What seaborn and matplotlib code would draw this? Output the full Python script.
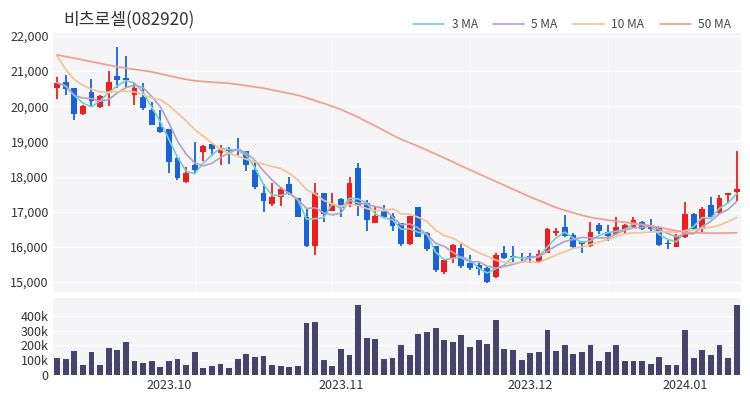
import numpy as np
import pandas as pd
import matplotlib
matplotlib.use("Agg")
import matplotlib.pyplot as plt
import seaborn as sns
from matplotlib.ticker import FuncFormatter

# ---- data ----
opens = [20530, 20700, 20510, 19780, 20400, 19970, 20370, 20860, 20800, 20320,
         20270, 19890, 19400, 19340, 18520, 17850, 18330, 18710, 18930, 18660,
         18780, 18760, 18740, 18190, 17520, 17220, 17430, 17790, 17380, 16840,
         16020, 17540, 17030, 17350, 17220, 18230, 17260, 16690, 17030, 16880,
         16690, 16080, 17120, 16380, 16020, 15290, 15670, 15960, 15530, 15480,
         15390, 15150, 15820, 15720, 15720, 15710, 15580, 15830, 16380, 16560,
         16340, 16150, 16020, 16620, 16430, 16370, 16510, 16570, 16720, 16590,
         16560, 16100, 15990, 16270, 16930, 16500, 17190, 16950, 17470, 17570]
highs = [20820, 20890, 20530, 20040, 20780, 20320, 21010, 21680, 21430, 20650,
         20670, 20130, 19890, 19340, 18570, 18280, 18990, 18900, 18930, 18900,
         18850, 19090, 18740, 18470, 17790, 17810, 17710, 17980, 17380, 17100,
         17830, 17540, 17540, 17380, 18000, 18380, 17330, 17140, 17190, 16970,
         16690, 16880, 17140, 16430, 16020, 15630, 16080, 16080, 15770, 15550,
         15420, 15830, 16010, 16020, 15830, 15820, 15910, 16530, 16530, 16900,
         16380, 16170, 16720, 16690, 16620, 16840, 16650, 16840, 16740, 16780,
         16570, 16210, 16370, 17290, 16950, 17120, 17430, 17480, 17530, 18740]
lows = [20200, 20320, 19610, 19760, 20020, 19960, 20010, 20510, 20560, 20040,
        19890, 19470, 19250, 18110, 17900, 17830, 18110, 18450, 18590, 18330,
        18360, 18610, 18170, 17660, 17000, 17170, 17160, 17480, 16840, 16000,
        15770, 16720, 17030, 16840, 17140, 16880, 16460, 16690, 16810, 16460,
        16010, 16050, 16290, 15890, 15290, 15230, 15550, 15390, 15340, 15200,
        14980, 15100, 15640, 15580, 15610, 15530, 15550, 15820, 16310, 16270,
        15950, 15820, 16000, 16370, 16170, 16340, 16380, 16560, 16480, 16460,
        16020, 15950, 15990, 16240, 16480, 16430, 16840, 16930, 17260, 17310]
closes = [20670, 20480, 19780, 20010, 20160, 20290, 20700, 20750, 20740, 20510,
          19940, 19470, 19280, 18420, 17950, 18090, 18200, 18870, 18780, 18780,
          18740, 18740, 18330, 17690, 17300, 17430, 17660, 17500, 16840, 16020,
          17540, 16930, 17220, 17100, 17830, 17160, 16760, 16880, 16840, 16590,
          16070, 16880, 16290, 15930, 15340, 15630, 16050, 15450, 15390, 15360,
          15010, 15770, 15670, 15700, 15690, 15700, 15800, 16500, 16450, 16310,
          16000, 16080, 16430, 16460, 16310, 16560, 16620, 16760, 16510, 16500,
          16050, 16070, 16310, 16930, 16500, 17070, 16840, 17380, 17520, 17650]
volumes = [115000, 106000, 160000, 70000, 154000, 66000, 183000, 170000, 226000, 97000,
           79000, 95000, 52000, 93000, 108000, 66000, 154000, 50000, 61000, 75000,
           50000, 108000, 140000, 120000, 129000, 66000, 59000, 54000, 59000, 350000,
           359000, 102000, 63000, 176000, 136000, 477000, 249000, 242000, 111000, 113000,
           203000, 136000, 276000, 289000, 319000, 237000, 224000, 271000, 188000, 235000,
           210000, 375000, 176000, 170000, 99000, 149000, 154000, 305000, 163000, 201000,
           140000, 154000, 203000, 97000, 154000, 203000, 93000, 93000, 93000, 77000,
           120000, 68000, 68000, 303000, 118000, 172000, 133000, 203000, 113000, 477000]
# moving-average values visible at the left edge (they depend on earlier history)
ma10_head = [21440, 21050, 20760, 20600, 20480, 20410, 20400, 20420, 20430]
ma50 = [21460, 21415, 21370, 21320, 21270, 21220, 21170, 21125, 21085, 21050,
        21015, 20980, 20925, 20870, 20815, 20765, 20725, 20705, 20685, 20670,
        20655, 20620, 20585, 20550, 20515, 20465, 20415, 20365, 20315, 20240,
        20160, 20080, 20000, 19910, 19800, 19690, 19560, 19440, 19310, 19180,
        19060, 18960, 18860, 18750, 18640, 18530, 18420, 18300, 18190, 18080,
        17970, 17860, 17750, 17640, 17530, 17420, 17320, 17220, 17120, 17040,
        16970, 16900, 16840, 16800, 16760, 16730, 16700, 16670, 16640, 16600,
        16560, 16500, 16460, 16420, 16400, 16395, 16390, 16390, 16395, 16400]
month_labels = ["2023.10", "2023.11", "2023.12", "2024.01"]
month_pos = [13, 33, 55, 73]
title = "비츠로셀(082920)"

# ---- styling ----
sns.set_theme(style="white")
plt.rcParams["font.family"] = ["Noto Sans CJK KR", "DejaVu Sans"]

RED = "#f21c1c"
BLUE = "#1763dc"
VOL = "#46436d"
BG = "#f5f5f7"
TXT = "#333333"
C3, C5, C10, C50 = "#74d2c6", "#b3a2cf", "#f2c590", "#f39d91"

n = len(closes)
df = pd.DataFrame({"idx": np.arange(n), "open": opens, "high": highs,
                   "low": lows, "close": closes, "volume": volumes, "ma50": ma50})
df["ma3"] = df["close"].rolling(3, min_periods=1).mean()
df["ma5"] = df["close"].rolling(5, min_periods=1).mean()
ma10 = df["close"].rolling(10).mean()
ma10.iloc[:len(ma10_head)] = ma10_head
df["ma10"] = ma10

W, H = 750, 400
fig = plt.figure(figsize=(W / 100, H / 100), dpi=100)
left, right = 53, 741
ax = fig.add_axes([left / W, 1 - 292 / H, (right - left) / W, (292 - 33) / H])
axv = fig.add_axes([left / W, 1 - 375 / H, (right - left) / W, (375 - 298) / H])

for a in (ax, axv):
    a.set_facecolor(BG)
    for s in a.spines.values():
        s.set_visible(False)

# candles
up = df["close"] >= df["open"]
cols = np.where(up, RED, BLUE)
ax.vlines(df["idx"], df["low"], df["high"], colors=cols, linewidth=1.3, zorder=3)
body_bottom = np.minimum(df["open"], df["close"])
body_h = np.maximum((df["close"] - df["open"]).abs(), 30)
ax.bar(df["idx"], body_h, bottom=body_bottom, width=0.68, color=cols,
       linewidth=0, zorder=4)

# moving averages
for col, c, lab in [("ma3", C3, "3 MA"), ("ma5", C5, "5 MA"),
                    ("ma10", C10, "10 MA"), ("ma50", C50, "50 MA")]:
    sns.lineplot(data=df, x="idx", y=col, ax=ax, color=c, linewidth=1.25,
                 label=lab, zorder=5)

ax.set_xlim(-0.47, n - 0.5)
ax.set_ylim(14715, 22085)
ax.set_yticks(range(15000, 22001, 1000))
ax.yaxis.set_major_formatter(FuncFormatter(lambda v, p: f"{int(v):,}"))
ax.set_xticks([16, 32, 48, 64])
ax.set_xticklabels([])
ax.grid(True, axis="y", color="white", linewidth=1.0, zorder=0)
ax.grid(True, axis="x", color="#fbfbfc", linewidth=0.8, zorder=0)
ax.set_axisbelow(True)
ax.set_xlabel("")
ax.set_ylabel("")
ax.tick_params(axis="both", length=0, labelsize=9, colors=TXT, pad=3)

handles, labels = ax.get_legend_handles_labels()
ax.get_legend().remove()
leg = fig.legend(handles, labels, loc="center right",
                 bbox_to_anchor=(736 / W, 1 - 25 / H), ncol=4, frameon=False,
                 fontsize=8.6, handlelength=2.6, columnspacing=1.3,
                 handletextpad=0.6, borderaxespad=0)
for t in leg.get_texts():
    t.set_color("#444444")

# volume
sns.barplot(data=df, x="idx", y="volume", ax=axv, color=VOL, saturation=1,
            width=0.68, linewidth=0, zorder=3)
axv.set_xlim(-0.47, n - 0.5)
axv.set_ylim(0, 522000)
axv.set_yticks([0, 100000, 200000, 300000, 400000])
axv.set_yticklabels(["0", "100k", "200k", "300k", "400k"])
axv.set_xticks(month_pos)
axv.set_xticklabels(month_labels)
axv.grid(True, axis="y", color="white", linewidth=1.0, zorder=0)
axv.set_axisbelow(True)
axv.set_xlabel("")
axv.set_ylabel("")
axv.tick_params(axis="both", length=0, labelsize=9, colors=TXT, pad=3)

fig.text(63 / W, 1 - 20 / H, title, ha="left", va="center",
         fontsize=12.3, color=TXT)

fig.savefig("out.png", dpi=100, facecolor="white")
